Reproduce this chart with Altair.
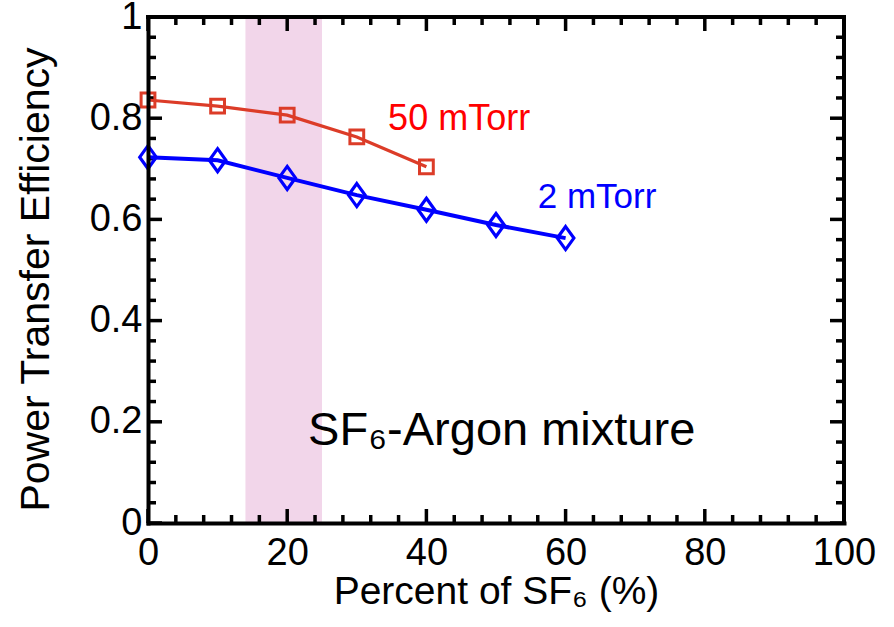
import altair as alt
import pandas as pd

# ---- data ----
pct_50 = [0, 10, 20, 30, 40]
eff_50 = [0.836, 0.824, 0.806, 0.763, 0.704]
pct_2 = [0, 10, 20, 30, 40, 50, 60]
eff_2 = [0.723, 0.717, 0.682, 0.648, 0.619, 0.589, 0.563]
band_range = [14, 25]

x_major = [0, 20, 40, 60, 80, 100]
y_major = [0, 0.2, 0.4, 0.6, 0.8, 1]
x_minor = [4, 8, 12, 16, 24, 28, 32, 36, 44, 48, 52, 56, 64, 68, 72, 76, 84, 88, 92, 96]
y_minor = [0.04, 0.08, 0.12, 0.16, 0.24, 0.28, 0.32, 0.36, 0.44, 0.48, 0.52, 0.56,
           0.64, 0.68, 0.72, 0.76, 0.84, 0.88, 0.92, 0.96]

label_texts = ["50 mTorr", "2 mTorr", "SF\u2086-Argon mixture"]
label_x = [34.5, 56.0, 23.0]
label_y = [0.777, 0.6225, 0.154]

W, H = 696, 506
FONT = "Liberation Sans"
X_MIN, X_MAX, Y_MIN, Y_MAX = 0, 100, 0, 1
# tick lengths (major 14 px, minor 8 px) expressed in data units of each axis
MAJ_Y, MIN_Y = 14 / H * (Y_MAX - Y_MIN), 8 / H * (Y_MAX - Y_MIN)
MAJ_X, MIN_X = 14 / W * (X_MAX - X_MIN), 8 / W * (X_MAX - X_MIN)

df50 = pd.DataFrame({"pct": pct_50, "eff": eff_50})
df2 = pd.DataFrame({"pct": pct_2, "eff": eff_2})
band_df = pd.DataFrame({"x0": [band_range[0]], "x1": [band_range[1]]})

xs = alt.Scale(domain=[X_MIN, X_MAX], nice=False, zero=False)
ys = alt.Scale(domain=[Y_MIN, Y_MAX], nice=False, zero=False)

x_axis = alt.Axis(orient="bottom", values=x_major, ticks=False, tickSize=0, grid=False,
                  labelFontSize=38, labelPadding=11, labelFlush=False, labelOverlap=False,
                  labelColor="black", labelFont=FONT, format="d",
                  title="Percent of SF\u2086 (%)", titleFontSize=39, titleFont=FONT,
                  titleFontWeight="normal", titleColor="black",
                  titleBaseline="alphabetic", titleY=80,
                  domain=True, domainWidth=4, domainColor="black", domainCap="square", zindex=1)
y_axis = alt.Axis(orient="left", values=y_major, ticks=False, tickSize=0, grid=False,
                  labelFontSize=38, labelPadding=6, labelFlush=False, labelOverlap=False,
                  labelColor="black", labelFont=FONT, format="~g",
                  title="Power Transfer Efficiency", titleFontSize=41, titleFont=FONT,
                  titleFontWeight="normal", titleColor="black",
                  titleAngle=270, titleBaseline="alphabetic", titleAlign="center",
                  titleX=-100, titleY=262,
                  domain=True, domainWidth=4, domainColor="black", domainCap="square", zindex=1)

X = alt.X("pct:Q", scale=xs, axis=x_axis)
Y = alt.Y("eff:Q", scale=ys, axis=y_axis)

band = alt.Chart(band_df).mark_rect(color="#F2D6EA", opacity=1).encode(
    x=alt.X("x0:Q", scale=xs, axis=x_axis), x2="x1:Q",
    y=alt.datum(Y_MIN, scale=ys, axis=y_axis), y2=alt.datum(Y_MAX))

# ---- inward ticks on all four sides, built from the tick lists ----
x_tick_df = pd.DataFrame({
    "x": x_major + x_major + x_minor + x_minor,
    "y0": [Y_MIN] * len(x_major) + [Y_MAX] * len(x_major) + [Y_MIN] * len(x_minor) + [Y_MAX] * len(x_minor),
    "y1": [Y_MIN + MAJ_Y] * len(x_major) + [Y_MAX - MAJ_Y] * len(x_major)
          + [Y_MIN + MIN_Y] * len(x_minor) + [Y_MAX - MIN_Y] * len(x_minor),
})
y_tick_df = pd.DataFrame({
    "y": y_major + y_major + y_minor + y_minor,
    "x0": [X_MIN] * len(y_major) + [X_MAX] * len(y_major) + [X_MIN] * len(y_minor) + [X_MAX] * len(y_minor),
    "x1": [X_MIN + MAJ_X] * len(y_major) + [X_MAX - MAJ_X] * len(y_major)
          + [X_MIN + MIN_X] * len(y_minor) + [X_MAX - MIN_X] * len(y_minor),
})

x_ticks_layer = alt.Chart(x_tick_df).mark_rule(color="black", strokeWidth=3.5).encode(
    x=alt.X("x:Q", scale=xs, axis=x_axis), y=alt.Y("y0:Q", scale=ys, axis=y_axis), y2="y1:Q")
y_ticks_layer = alt.Chart(y_tick_df).mark_rule(color="black", strokeWidth=3.5).encode(
    y=alt.Y("y:Q", scale=ys, axis=y_axis), x=alt.X("x0:Q", scale=xs, axis=x_axis), x2="x1:Q")

frame_top = alt.Chart(band_df).mark_rule(color="black", strokeWidth=4, strokeCap="square").encode(
    x=alt.datum(X_MIN, scale=xs, axis=x_axis), x2=alt.datum(X_MAX), y=alt.datum(Y_MAX, scale=ys, axis=y_axis))
frame_right = alt.Chart(band_df).mark_rule(color="black", strokeWidth=4, strokeCap="square").encode(
    y=alt.datum(Y_MIN, scale=ys, axis=y_axis), y2=alt.datum(Y_MAX), x=alt.datum(X_MAX, scale=xs, axis=x_axis))

red = "#DC3C28"
blue = "#0000FF"
line50 = alt.Chart(df50).mark_line(color=red, strokeWidth=3.2).encode(x=X, y=Y)
pts50 = alt.Chart(df50).mark_point(shape="square", filled=False, color=red, size=190,
                                   strokeWidth=3, opacity=1).encode(x=X, y=Y)
line2 = alt.Chart(df2).mark_line(color=blue, strokeWidth=4).encode(x=X, y=Y)
pts2 = alt.Chart(df2).mark_point(shape="M0,-1L0.72,0L0,1L-0.72,0Z", filled=False, color=blue,
                                 size=530, strokeWidth=3.2, opacity=1).encode(x=X, y=Y)

txt_df = pd.DataFrame({"t": label_texts, "x": label_x, "y": label_y})
TX = alt.X("x:Q", scale=xs, axis=x_axis)
TY = alt.Y("y:Q", scale=ys, axis=y_axis)
t1 = alt.Chart(txt_df.iloc[[0]]).mark_text(align="left", baseline="alphabetic", fontSize=36,
                                           font=FONT, color="#FF0000").encode(x=TX, y=TY, text="t:N")
t2 = alt.Chart(txt_df.iloc[[1]]).mark_text(align="left", baseline="alphabetic", fontSize=35,
                                           font=FONT, color=blue).encode(x=TX, y=TY, text="t:N")
t3 = alt.Chart(txt_df.iloc[[2]]).mark_text(align="left", baseline="alphabetic", fontSize=47,
                                           font=FONT, color="black").encode(x=TX, y=TY, text="t:N")

chart = alt.layer(band, x_ticks_layer, y_ticks_layer, frame_top, frame_right,
                  line50, line2, pts50, pts2, t1, t2, t3).properties(
    width=W, height=H,
    autosize=alt.AutoSizeParams(type="none"),
    padding={"left": 148, "top": 17, "right": 894 - 148 - W, "bottom": 627 - 17 - H},
    background="white",
).configure_view(stroke=None).configure(font=FONT)

chart.save("out.html", embed_options={"renderer": "svg", "actions": False})
